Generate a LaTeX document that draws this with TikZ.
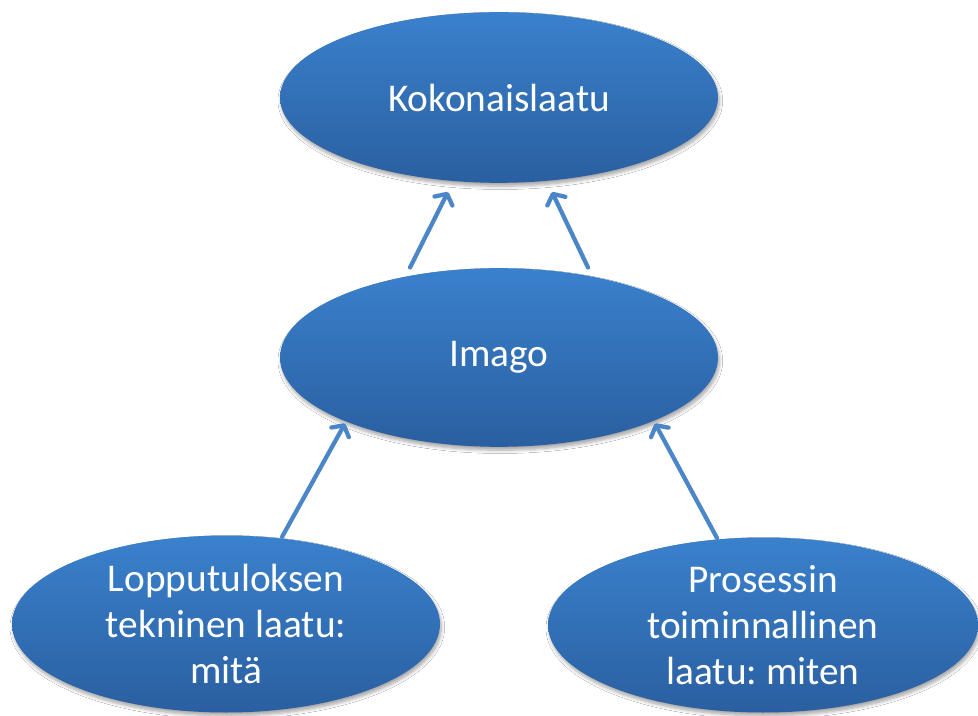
\documentclass[tikz,border=0pt]{standalone}
\usepackage{fontspec}
\setmainfont{Carlito}
\frenchspacing
\usetikzlibrary{shapes.geometric,arrows.meta,calc,shadows.blur}

\definecolor{blobtop}{HTML}{3A81CD}
\definecolor{blobbottom}{HTML}{2A5FA0}
\definecolor{arrowblue}{HTML}{4A86C8}

\tikzset{
  blob/.style={ellipse, inner sep=0pt, align=center,
    top color=blobtop, bottom color=blobbottom, text=white,
    font=\fontsize{29.5}{34.5}\selectfont,
    blur shadow={shadow xshift=1pt, shadow yshift=-2.5pt,
      shadow blur steps=6, shadow blur radius=2.5pt, shadow opacity=35}},
  uparrow/.style={draw=arrowblue, line width=3.2pt, line cap=round,
    -{Straight Barb[length=6pt,width=15pt,line cap=round,line join=round]}},
}

\begin{document}
\begin{tikzpicture}[x=0.75pt, y=-0.75pt]
  \useasboundingbox (0,0) rectangle (978,716);
  \fill[white] (0,0) rectangle (978,716);

  % quality levels
  \node[blob, minimum width=328.5pt, minimum height=128pt] (total) at (499,97.5) {Kokonaislaatu};
  \node[blob, minimum width=328.5pt, minimum height=134pt] (image) at (499,357.5) {Imago};
  \node[blob, minimum width=321pt, minimum height=132.75pt] (tech) at (226,624) {Lopputuloksen\\tekninen laatu:\\mitä};
  \node[blob, minimum width=322.5pt, minimum height=131.25pt] (func) at (763,625) {Prosessin\\toiminnallinen\\laatu: miten};

  % contributions
  \draw[uparrow] ($(image)+(-89,-90)$) -- ($(total)+(-51,94.5)$);
  \draw[uparrow] ($(image)+(89,-90)$) -- ($(total)+(53,94.5)$);
  \draw[uparrow] ($(tech)+(56,-87)$) -- ($(image)+(-154,66)$);
  \draw[uparrow] ($(func)+(-46,-87)$) -- ($(image)+(156,66)$);
\end{tikzpicture}
\end{document}
